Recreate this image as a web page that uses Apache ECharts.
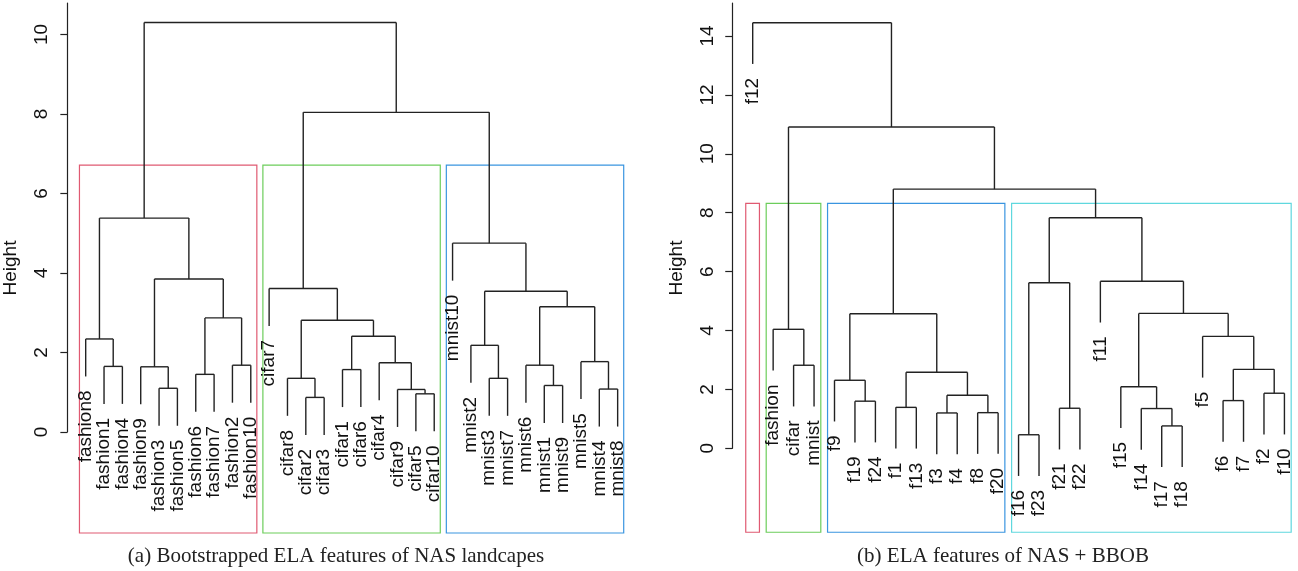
<!DOCTYPE html>
<html><head><meta charset="utf-8">
<script src="https://cdn.jsdelivr.net/npm/echarts@6/dist/echarts.min.js"></script>
<style>html,body{margin:0;padding:0;background:#fff}#chart{width:1298px;height:571px}</style>
</head><body><div id="chart"></div>
<script>
// ---------- data: panel (a) ----------
const leavesA = ['fashion8','fashion1','fashion4','fashion9','fashion3','fashion5','fashion6','fashion7','fashion2','fashion10',
  'cifar7','cifar8','cifar2','cifar3','cifar1','cifar6','cifar4','cifar9','cifar5','cifar10',
  'mnist10','mnist2','mnist3','mnist7','mnist6','mnist1','mnist9','mnist5','mnist4','mnist8'];
// merge matrix (hclust style): negative = leaf position, positive = earlier merge step
const mergeA = [[-13,-14],[-19,-20],[-18,2],[-29,-30],[-5,-6],[-26,-27],[-12,1],[-23,-24],[-7,-8],[-15,-16],
  [-4,5],[-2,-3],[-9,-10],[-25,6],[-17,3],[-28,4],[-22,8],[-1,12],[10,15],[7,19],
  [9,13],[14,16],[17,22],[-11,20],[11,21],[-21,23],[18,25],[24,26],[27,28]];
const heightA = [0.87,0.96,1.07,1.08,1.10,1.17,1.35,1.35,1.45,1.57,1.64,1.65,1.68,1.68,1.74,1.77,2.18,2.34,2.41,2.81,
  2.87,3.15,3.54,3.61,3.85,4.75,5.38,8.04,10.30];
const yTicksA = [0,2,4,6,8,10];
const kA = 3;
const captionA = '(a) Bootstrapped ELA features of NAS landcapes';

// ---------- data: panel (b) ----------
const leavesB = ['f12','fashion','cifar','mnist','f9','f19','f24','f1','f13','f3','f4','f8','f20',
  'f16','f23','f21','f22','f11','f15','f14','f17','f18','f5','f6','f7','f2','f10'];
const mergeB = [[-14,-15],[-21,-22],[-10,-11],[-12,-13],[-20,2],[-16,-17],[-8,-9],[-6,-7],[-24,-25],[3,4],
  [-26,-27],[-19,5],[-5,8],[7,10],[9,11],[-3,-4],[-23,15],[-2,16],[13,14],[12,17],
  [1,6],[-18,20],[21,22],[19,23],[18,24],[-1,25]];
const heightB = [0.46,0.76,1.20,1.21,1.35,1.36,1.39,1.60,1.62,1.80,1.87,2.09,2.31,2.58,2.68,2.82,3.80,4.04,4.57,4.58,
  5.62,5.67,7.83,8.80,10.91,14.45];
const yTicksB = [0,2,4,6,8,10,12,14];
const kB = 4;
const captionB = '(b) ELA features of NAS + BBOB';

// ---------- styles / layout ----------
const rectColors = ['#E05A72','#6CCD5B','#3A95E0','#5FD8DE'];
const lineColor = '#222';
const SANS = '"Liberation Sans", Arial, sans-serif';
const SERIF = '"Liberation Serif", "Times New Roman", serif';
const panels = [
  {leaves: leavesA, merge: mergeA, height: heightA, k: kA, ticks: yTicksA,
   grid: {left: 65, top: 3, width: 571, height: 429}, xMin: -0.128, xMax: 31.0, yMax: 10.79, frameBottom: -2.54},
  {leaves: leavesB, merge: mergeB, height: heightB, k: kB, ticks: yTicksB,
   grid: {left: 731, top: 3, width: 565.7, height: 445.3}, xMin: -0.061, xMax: 27.6, yMax: 15.12, frameBottom: -2.85}
];

function buildDendro(p) {
  const {leaves, merge, height, k} = p;
  const hang = 0.1 * (Math.max(...height) - Math.min(...height));
  const nodeX = [], lo = [], hi = [];
  const segs = [], labels = [];
  const child = (c) => c < 0 ? {x: -c, leaf: true, lo: -c, hi: -c} : {x: nodeX[c-1], y: height[c-1], lo: lo[c-1], hi: hi[c-1]};
  merge.forEach((m, i) => {
    const h = height[i];
    const a = child(m[0]), b = child(m[1]);
    nodeX[i] = (a.x + b.x) / 2;
    lo[i] = Math.min(a.lo, b.lo); hi[i] = Math.max(a.hi, b.hi);
    [a, b].forEach(c => {
      const yb = c.leaf ? h - hang : c.y;
      segs.push([c.x, yb, c.x, h]);
      if (c.leaf) labels.push([c.x, yb, c.x - 1]);
    });
    segs.push([a.x, h, b.x, h]);
  });
  // clusters for k groups (rect.hclust)
  const sorted = height.slice().sort((u, v) => v - u);
  const cut = (sorted[k-2] + sorted[k-1]) / 2;
  const clusters = [];
  (function walk(c) {
    if (c < 0) { clusters.push([-c, -c]); return; }
    if (height[c-1] > cut) { walk(merge[c-1][0]); walk(merge[c-1][1]); }
    else clusters.push([lo[c-1], hi[c-1]]);
  })(merge.length);
  const rects = clusters.map((r, i) => [r[0] - 0.34, p.frameBottom, r[1] + 0.33, cut, i]);
  return {segs, labels, rects};
}

const grids = [], xAxes = [], yAxes = [], series = [];
panels.forEach((p, pi) => {
  const d = buildDendro(p);
  grids.push(Object.assign({containLabel: false, outerBoundsMode: 'none'}, p.grid));
  xAxes.push({gridIndex: pi, type: 'value', min: p.xMin, max: p.xMax, show: false});
  yAxes.push({
    gridIndex: pi, type: 'value', min: 0, max: p.yMax,
    splitLine: {show: false},
    axisLine: {show: true, lineStyle: {color: '#222', width: 1.2}},
    axisTick: {show: true, length: 7, customValues: p.ticks, lineStyle: {color: '#222', width: 1.2}},
    axisLabel: {show: true, customValues: p.ticks, rotate: 90, margin: 14, fontSize: 19, fontFamily: SANS, color: '#111'}
  });
  series.push({
    type: 'custom', xAxisIndex: pi, yAxisIndex: pi, clip: false, silent: true, z: 1,
    data: d.rects,
    renderItem: (params, api) => {
      const a = api.coord([api.value(0), api.value(3)]);
      const b = api.coord([api.value(2), api.value(1)]);
      return {type: 'rect', shape: {x: a[0], y: a[1], width: b[0] - a[0], height: b[1] - a[1]},
        style: {fill: 'none', stroke: rectColors[api.value(4)], lineWidth: 1.2}};
    }
  });
  series.push({
    type: 'custom', xAxisIndex: pi, yAxisIndex: pi, clip: false, silent: true, z: 2,
    data: d.segs,
    renderItem: (params, api) => {
      const a = api.coord([api.value(0), api.value(1)]);
      const b = api.coord([api.value(2), api.value(3)]);
      return {type: 'line', shape: {x1: a[0], y1: a[1], x2: b[0], y2: b[1]},
        style: {stroke: lineColor, lineWidth: 1.4}};
    }
  });
  series.push({
    type: 'custom', xAxisIndex: pi, yAxisIndex: pi, clip: false, silent: true, z: 3,
    data: d.labels,
    renderItem: (params, api) => {
      const a = api.coord([api.value(0), api.value(1)]);
      const txt = p.leaves[api.value(2)];
      return {type: 'text', x: a[0], y: a[1] + 14, rotation: Math.PI / 2,
        style: {text: txt, x: 0, y: 0, align: 'right', verticalAlign: 'middle',
          textAlign: 'right', textVerticalAlign: 'middle',
          font: '19px ' + SANS, fill: '#111'}};
    }
  });
});

const chart = echarts.init(document.getElementById('chart'), null, {renderer: 'canvas'});
chart.setOption({
  animation: false,
  backgroundColor: '#fff',
  grid: grids, xAxis: xAxes, yAxis: yAxes, series: series,
  graphic: [
    {type: 'text', x: 11, y: 268, rotation: Math.PI / 2,
     style: {text: 'Height', align: 'center', verticalAlign: 'middle', textAlign: 'center', textVerticalAlign: 'middle', font: '19px ' + SANS, fill: '#111'}},
    {type: 'text', x: 677, y: 268, rotation: Math.PI / 2,
     style: {text: 'Height', align: 'center', verticalAlign: 'middle', textAlign: 'center', textVerticalAlign: 'middle', font: '19px ' + SANS, fill: '#111'}},
    {type: 'text', x: 336, y: 556,
     style: {text: captionA, align: 'center', verticalAlign: 'middle', textAlign: 'center', textVerticalAlign: 'middle', font: '21px ' + SERIF, fill: '#222'}},
    {type: 'text', x: 1003, y: 556,
     style: {text: captionB, align: 'center', verticalAlign: 'middle', textAlign: 'center', textVerticalAlign: 'middle', font: '21px ' + SERIF, fill: '#222'}}
  ]
});
</script>
</body></html>
